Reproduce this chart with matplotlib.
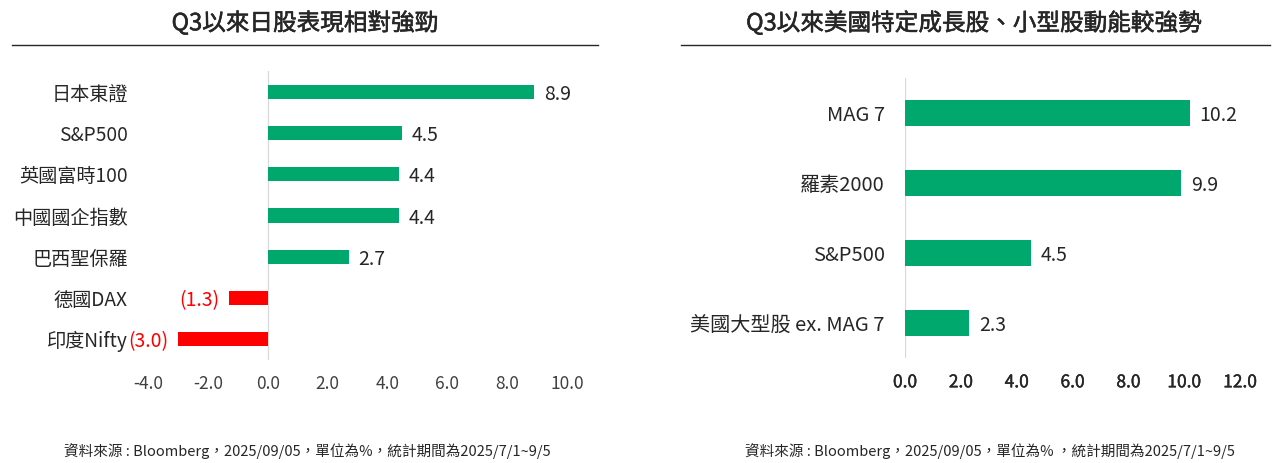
import matplotlib
matplotlib.use('Agg')

import matplotlib.pyplot as plt
import matplotlib.patheffects as pe
from matplotlib.lines import Line2D

plt.rcParams['font.family'] = ['Noto Sans CJK TC', 'DejaVu Sans']

# ===================== 資料 =====================
LEFT_TITLE = 'Q3以來日股表現相對強勁'
LEFT_CATS = ['日本東證', 'S&P500', '英國富時100', '中國國企指數', '巴西聖保羅', '德國DAX', '印度Nifty']
LEFT_VALS = [8.9, 4.5, 4.4, 4.4, 2.7, -1.3, -3.0]
LEFT_TICKS = [-4.0, -2.0, 0.0, 2.0, 4.0, 6.0, 8.0, 10.0]
LEFT_NOTE = '資料來源 : Bloomberg，2025/09/05，單位為%，統計期間為2025/7/1~9/5'

RIGHT_TITLE = 'Q3以來美國特定成長股、小型股動能較強勢'
RIGHT_CATS = ['MAG 7', '羅素2000', 'S&P500', '美國大型股 ex. MAG 7']
RIGHT_VALS = [10.2, 9.9, 4.5, 2.3]
RIGHT_TICKS = [0.0, 2.0, 4.0, 6.0, 8.0, 10.0, 12.0]
RIGHT_NOTE = '資料來源 : Bloomberg，2025/09/05，單位為% ，統計期間為2025/7/1~9/5'

GREEN = '#00A86E'
RED = '#FF0000'
TXT = '#262626'

W, H = 1274, 463
fig = plt.figure(figsize=(W / 100, H / 100), dpi=100)


def px_axes(x0, y0, x1, y1):
    # 以像素座標（左上原點）建立 axes
    return fig.add_axes([x0 / W, 1 - y1 / H, (x1 - x0) / W, (y1 - y0) / H])


def draw_panel(ax, cats, vals, ticks, bar_h, cat_fs, tick_color, tick_stroke):
    n = len(cats)
    ys = list(range(n))
    colors = [GREEN if v >= 0 else RED for v in vals]
    ax.barh(ys, vals, height=bar_h, color=colors, zorder=3)
    ax.set_ylim(n - 0.5, -0.5)
    ax.set_xlim(ticks[0], ticks[-1])
    ax.axvline(0, color='#D9D9D9', lw=0.9, zorder=2)
    for s in ax.spines.values():
        s.set_visible(False)
    ax.set_yticks(ys)
    ax.set_yticklabels(cats, fontsize=cat_fs, color=TXT)
    ax.set_xticks(ticks)
    ax.set_xticklabels([f'{t:.1f}' for t in ticks], fontsize=12.5, color=tick_color)
    if tick_stroke:
        for lbl in ax.get_xticklabels():
            lbl.set_path_effects([pe.withStroke(linewidth=0.3, foreground=tick_color)])
    ax.tick_params(axis='x', length=0, pad=11)
    ax.tick_params(axis='y', length=0, pad=14.5)
    for y, v in zip(ys, vals):
        if v >= 0:
            ax.annotate(f'{v:.1f}', (v, y), xytext=(7, 0), textcoords='offset points',
                        ha='left', va='center_baseline', fontsize=14, color=TXT)
        else:
            ax.annotate(f'({abs(v):.1f})', (v, y), xytext=(-7, 0), textcoords='offset points',
                        ha='right', va='center_baseline', fontsize=14, color=RED)


# ── 左圖 ──
axl = px_axes(148, 71, 567, 360)
draw_panel(axl, LEFT_CATS, LEFT_VALS, LEFT_TICKS, 0.34, 13.8, '#404040', False)

# ── 右圖 ──
axr = px_axes(905, 78, 1240, 358)
draw_panel(axr, RIGHT_CATS, RIGHT_VALS, RIGHT_TICKS, 0.36, 14.5, '#262626', True)

# ── 標題、底線、註解 ──
for cx, x0, x1, ncx, title, note in [(305, 12, 598, 307, LEFT_TITLE, LEFT_NOTE),
                                      (974, 681, 1270, 990, RIGHT_TITLE, RIGHT_NOTE)]:
    fig.text(cx / W, 1 - 23 / H, title, ha='center', va='center', fontsize=17, color=TXT,
             path_effects=[pe.withStroke(linewidth=0.4, foreground=TXT)])
    fig.add_artist(Line2D([x0 / W, x1 / W], [1 - 45 / H, 1 - 45 / H],
                          color='#262626', lw=1.0, transform=fig.transFigure))
    fig.text(ncx / W, 1 - 451 / H, note, ha='center', va='center',
             fontsize=10.5, color=TXT)

fig.savefig('out.png', dpi=100, facecolor='white')
plt.close(fig)
